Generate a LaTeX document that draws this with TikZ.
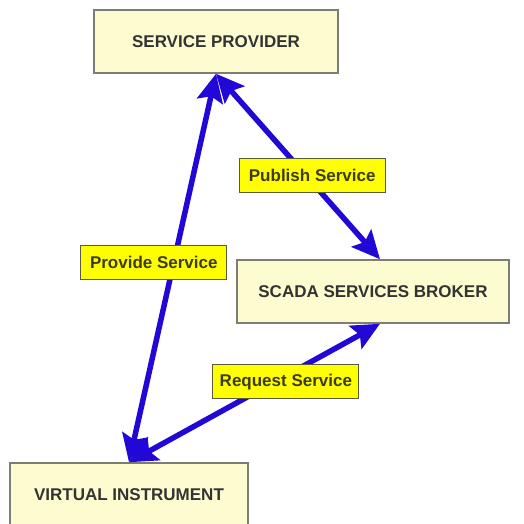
\documentclass[tikz,border=0pt]{standalone}
\usepackage{fontspec}
\setmainfont{Liberation Sans}
\usetikzlibrary{arrows.meta}
\definecolor{boxfill}{RGB}{252,252,208}
\definecolor{boxline}{RGB}{125,125,115}
\definecolor{linkblue}{RGB}{34,8,214}
\definecolor{tagfill}{RGB}{255,255,0}
\definecolor{tagline}{RGB}{90,90,60}
\definecolor{tagtext}{RGB}{60,60,25}

\begin{document}
\begin{tikzpicture}[x=1pt,y=-1pt,
		block/.style={draw=boxline,line width=1.5pt,fill=boxfill,inner sep=0pt,minimum height=63pt,text=black!80,font=\fontsize{17}{20}\selectfont\bfseries},
		tag/.style={draw=tagline,line width=1.2pt,fill=tagfill,inner sep=0pt,minimum width=146pt,minimum height=34pt,text=tagtext,font=\fontsize{17}{20}\selectfont\bfseries},
		link/.style={draw=linkblue,line width=5.5pt,{Stealth[length=28pt,width=26pt,inset=5pt]}-{Stealth[length=28pt,width=26pt,inset=5pt]}}]
				\useasboundingbox[fill=white] (0,0) rectangle (523,524);
				
				\node[block,minimum width=244pt] (provider) at (216,41.5) {SERVICE PROVIDER};
				\node[block,minimum width=272pt] (broker) at (373,291.5) {SCADA SERVICES BROKER};
				\node[block,minimum width=238pt] (instrument) at (129,494.5) {VIRTUAL INSTRUMENT};
				
				\coordinate (brokertop) at ([xshift=7pt]broker.north);
				\coordinate (brokerbottom) at ([xshift=7pt]broker.south);
				
				\draw[link] (instrument.north) -- (provider.south)
					node[tag,pos=0.515,xshift=-20pt] (provide) {Provide Service};
				\draw[link] (provider.south) -- (brokertop)
					node[tag,pos=0.55,xshift=6pt] (publish) {Publish Service};
				\draw[link] (instrument.north) -- (brokerbottom)
					node[tag,pos=0.625,yshift=-6pt] (request) {Request Service};
			\end{tikzpicture}
\end{document}
